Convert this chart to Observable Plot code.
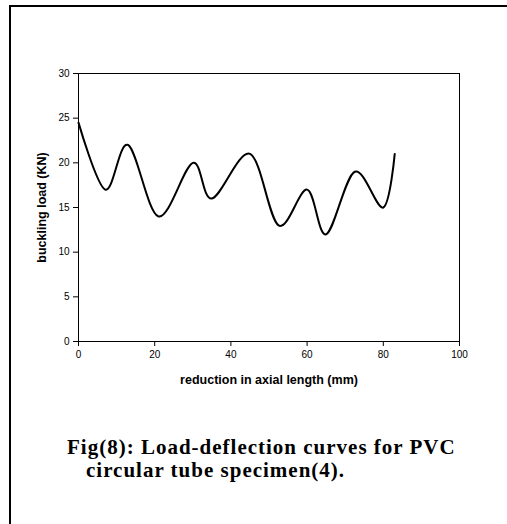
<!DOCTYPE html>
<html>
<head>
<meta charset="utf-8">
<script src="https://cdn.jsdelivr.net/npm/d3@7"></script>
<script src="https://cdn.jsdelivr.net/npm/@observablehq/plot@0.6"></script>
<style>
  html, body { margin: 0; padding: 0; background: #fff; }
  #page { position: relative; width: 507px; height: 524px; overflow: hidden; background: #fff; }
  #border { position: absolute; left: 9px; top: 5px; width: 700px; height: 700px; border: 2px solid #000; box-sizing: border-box; }
  #chart { position: absolute; left: 0; top: 0; }
  #chart svg [aria-label="x-axis label"] text,
  #chart svg [aria-label="y-axis label"] text { font-weight: bold; font-size: 12.5px; }
  .cap { position: absolute; font-family: "Liberation Serif", "Times New Roman", serif; font-weight: bold; font-size: 21px; line-height: 23.25px; letter-spacing: 1px; white-space: nowrap; color: #000; }
</style>
</head>
<body>
<div id="page">
  <div id="border"></div>
  <div id="chart"></div>
  <div class="cap" id="cap1" style="left:67px; top:435.5px;">Fig(8): Load-deflection curves for PVC</div>
  <div class="cap" id="cap2" style="left:86px; top:459px;">circular tube specimen(4).</div>
</div>
<script>
const xValues = [0, 7, 13, 21, 30, 35, 45, 52.5, 60, 65, 72.5, 80, 83];
const yValues = [24.5, 17, 22, 14, 20, 16, 21, 13, 17, 12, 19, 15, 21];
const xTicks = [0, 20, 40, 60, 80, 100];
const yTicks = [0, 5, 10, 15, 20, 25, 30];
const xLabel = "reduction in axial length (mm)";
const yLabel = "buckling load (KN)";

const data = xValues.map((x, i) => ({x, y: yValues[i]}));

const chart = Plot.plot({
  width: 507,
  height: 400,
  marginLeft: 78,
  marginRight: 48,
  marginTop: 73,
  marginBottom: 59,
  style: { fontFamily: "Liberation Sans, Arial, sans-serif", fontSize: "10px", color: "#000", background: "transparent" },
  x: { domain: [0, 100] },
  y: { domain: [0, 30] },
  marks: [
    Plot.frame({ stroke: "#000", strokeWidth: 1 }),
    Plot.axisX({ ticks: xTicks, tickSize: 5, tickPadding: 4, label: xLabel, labelAnchor: "center", labelArrow: "none", labelOffset: 42 }),
    Plot.axisY({ ticks: yTicks, tickSize: 5, tickPadding: 4, label: yLabel, labelAnchor: "center", labelArrow: "none", labelOffset: 41 }),
    Plot.line(data, { x: "x", y: "y", curve: "cardinal", stroke: "#000", strokeWidth: 2 })
  ]
});
document.getElementById("chart").appendChild(chart);
</script>
</body>
</html>
